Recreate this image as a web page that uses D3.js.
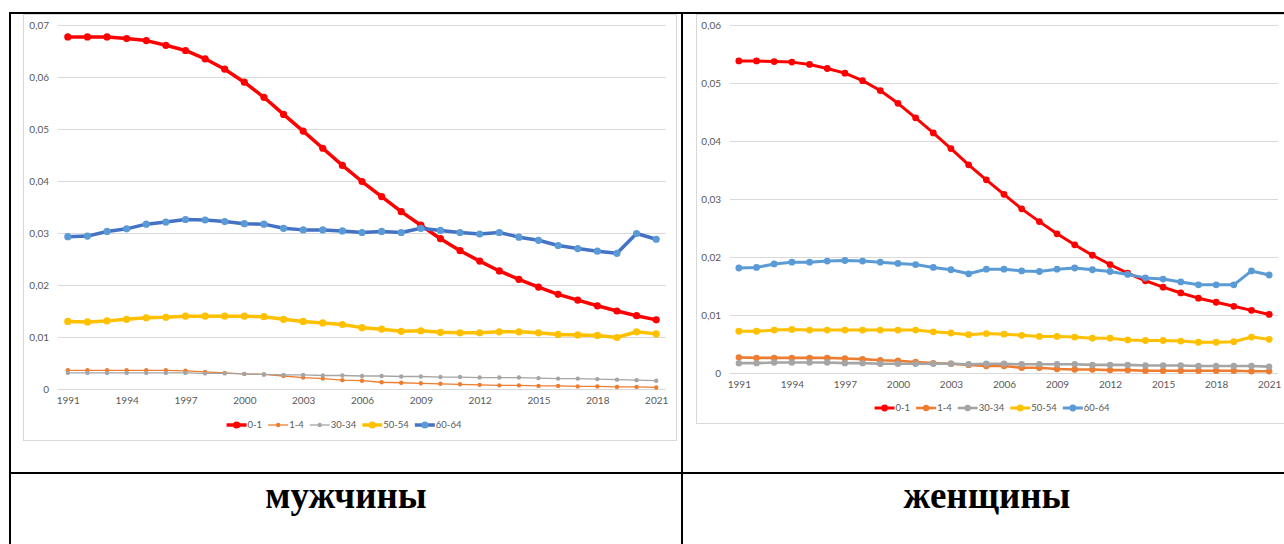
<!DOCTYPE html>
<html>
<head>
<meta charset="utf-8">
<script src="https://cdn.jsdelivr.net/npm/d3@7/dist/d3.min.js"></script>
<style>
html,body{margin:0;padding:0;background:#fff;}
svg{display:block;}
</style>
</head>
<body>
<svg id="c" width="1284" height="544"></svg>
<script>
const years = d3.range(1991, 2022);
const seriesNames = ["0-1", "1-4", "30-34", "50-54", "60-64"];
const tickYears = [1991,1994,1997,2000,2003,2006,2009,2012,2015,2018,2021];

// Men
const men_0_1 = [0.0677,0.0677,0.0677,0.0674,0.0670,0.0661,0.0651,0.0635,0.0615,0.0590,0.0561,0.0528,0.0496,0.0463,0.0430,0.0399,0.0370,0.0341,0.0315,0.0289,0.0266,0.0246,0.0227,0.0211,0.0196,0.0182,0.0171,0.0160,0.0150,0.0141,0.0133];
const men_1_4 = [0.0036,0.0036,0.0036,0.0036,0.0036,0.0036,0.0035,0.0033,0.0031,0.0029,0.0028,0.0025,0.0022,0.0020,0.0017,0.0016,0.0013,0.0012,0.0011,0.0010,0.0009,0.0008,0.0007,0.0007,0.0006,0.0006,0.0005,0.0005,0.0004,0.0004,0.0003];
const men_30_34 = [0.0031,0.0031,0.0031,0.0031,0.0031,0.0031,0.0031,0.0030,0.0030,0.0029,0.0028,0.0027,0.0027,0.0026,0.0026,0.0025,0.0025,0.0024,0.0024,0.0023,0.0023,0.0022,0.0022,0.0022,0.0021,0.0020,0.0020,0.0019,0.0018,0.0017,0.0016];
const men_50_54 = [0.0130,0.0129,0.0131,0.0134,0.0137,0.0138,0.0140,0.0140,0.0140,0.0140,0.0139,0.0134,0.0130,0.0127,0.0124,0.0118,0.0115,0.0111,0.0112,0.0109,0.0108,0.0108,0.0110,0.0110,0.0108,0.0105,0.0104,0.0103,0.0099,0.0110,0.0106];
const men_60_64 = [0.0293,0.0294,0.0303,0.0308,0.0317,0.0321,0.0326,0.0325,0.0322,0.0318,0.0317,0.0309,0.0306,0.0306,0.0304,0.0301,0.0303,0.0301,0.0309,0.0305,0.0301,0.0298,0.0301,0.0292,0.0286,0.0276,0.0270,0.0265,0.0261,0.0299,0.0288];

// Women
const women_0_1 = [0.0538,0.0538,0.0537,0.0536,0.0532,0.0525,0.0517,0.0504,0.0487,0.0465,0.0440,0.0414,0.0387,0.0359,0.0333,0.0308,0.0283,0.0261,0.0240,0.0221,0.0203,0.0187,0.0172,0.0159,0.0148,0.0138,0.0129,0.0122,0.0115,0.0108,0.0101];
const women_1_4 = [0.0027,0.0026,0.0026,0.0026,0.0026,0.0026,0.0025,0.0024,0.0022,0.0021,0.0019,0.0017,0.0016,0.0014,0.0012,0.0012,0.0009,0.0009,0.0007,0.0006,0.0006,0.0005,0.0005,0.0004,0.0004,0.0004,0.0004,0.0004,0.0004,0.0003,0.0003];
const women_30_34 = [0.0017,0.0017,0.0018,0.0018,0.0018,0.0018,0.0017,0.0017,0.0016,0.0016,0.0016,0.0016,0.0016,0.0015,0.0016,0.0016,0.0015,0.0015,0.0015,0.0015,0.0014,0.0014,0.0014,0.0013,0.0013,0.0013,0.0012,0.0012,0.0012,0.0012,0.0011];
const women_50_54 = [0.0072,0.0072,0.0074,0.0075,0.0074,0.0074,0.0074,0.0074,0.0074,0.0074,0.0074,0.0071,0.0069,0.0066,0.0068,0.0067,0.0065,0.0063,0.0063,0.0062,0.0060,0.0060,0.0057,0.0056,0.0056,0.0055,0.0053,0.0053,0.0054,0.0062,0.0058];
const women_60_64 = [0.0181,0.0182,0.0188,0.0191,0.0191,0.0193,0.0194,0.0193,0.0191,0.0189,0.0187,0.0182,0.0178,0.0171,0.0179,0.0179,0.0176,0.0175,0.0179,0.0181,0.0178,0.0175,0.0170,0.0164,0.0162,0.0157,0.0152,0.0152,0.0152,0.0176,0.0169];

const menTicks = [0,0.01,0.02,0.03,0.04,0.05,0.06,0.07];
const womenTicks = [0,0.01,0.02,0.03,0.04,0.05,0.06];
const panelTitles = ["мужчины", "женщины"];

const svg = d3.select("#c");
const fmt = v => v === 0 ? "0" : d3.format(".2f")(v).replace(".", ",");
const labelFont = "Lato, 'Open Sans', sans-serif";

function drawChart(cfg) {
  const g = svg.append("g");
  g.append("rect").attr("x", cfg.frame[0]+0.5).attr("y", cfg.frame[1]+0.5)
    .attr("width", cfg.frame[2]-cfg.frame[0]).attr("height", cfg.frame[3]-cfg.frame[1])
    .attr("fill", "#fff").attr("stroke", "#D9D9D9").attr("stroke-width", 1);
  const x = d3.scalePoint().domain(years).range([cfg.plot[0], cfg.plot[2]]).padding(0.5);
  const y = d3.scaleLinear().domain([0, cfg.ticks[cfg.ticks.length-1]]).range([cfg.plot[3], cfg.plot[1]]);
  g.append("g").selectAll("line").data(cfg.ticks).join("line")
    .attr("x1", cfg.plot[0]).attr("x2", cfg.plot[2])
    .attr("y1", d => Math.round(y(d))+0.5).attr("y2", d => Math.round(y(d))+0.5)
    .attr("stroke", "#D9D9D9").attr("stroke-width", 1);
  const yAxis = d3.axisLeft(y).tickValues(cfg.ticks).tickFormat(fmt).tickSize(0).tickPadding(0);
  const ya = g.append("g").attr("transform", `translate(${cfg.plot[0]-9},0)`).call(yAxis);
  ya.select(".domain").remove();
  ya.selectAll("text").attr("fill", "#595959").attr("font-size", 10).attr("font-family", labelFont);
  const xAxis = d3.axisBottom(x).tickValues(tickYears).tickSize(0).tickPadding(0);
  const xa = g.append("g").attr("transform", `translate(0,${cfg.plot[3]+8})`).call(xAxis);
  xa.select(".domain").remove();
  xa.selectAll("text").attr("fill", "#595959").attr("font-size", 10).attr("font-family", labelFont);
  const line = d3.line().x((d,i) => x(years[i])).y(d => y(d));
  cfg.series.forEach(s => {
    g.append("path").datum(s.values).attr("d", line).attr("fill", "none")
      .attr("stroke", s.line).attr("stroke-width", s.lw).attr("stroke-linejoin", "round").attr("stroke-linecap", "round");
    g.append("g").selectAll("circle").data(s.values).join("circle")
      .attr("cx", (d,i) => x(years[i])).attr("cy", d => y(d)).attr("r", s.r).attr("fill", s.marker);
  });
  const lg = g.append("g");
  let cx = 0;
  cfg.series.forEach(s => {
    const it = lg.append("g").attr("transform", `translate(${cx},0)`);
    it.append("line").attr("x1", 0).attr("x2", 20).attr("y1", 0).attr("y2", 0)
      .attr("stroke", s.line).attr("stroke-width", s.lw);
    it.append("circle").attr("cx", 10).attr("cy", 0).attr("r", s.r).attr("fill", s.marker);
    const t = it.append("text").attr("x", 21).attr("y", 0).attr("dy", "0.35em").text(s.name)
      .attr("fill", "#595959").attr("font-size", 9.5).attr("font-family", labelFont);
    const w = t.node().getComputedTextLength();
    cx += 21 + w + 6;
  });
  const total = cx - 6;
  lg.attr("transform", `translate(${cfg.legendCx - total/2},${cfg.legendY})`);
}

const menColors = [
  {line:"#FF0000", marker:"#FF0000", lw:3.5, r:3.6},
  {line:"#ED7D31", marker:"#ED7D31", lw:1.3, r:2.2},
  {line:"#A5A5A5", marker:"#A5A5A5", lw:1.3, r:2.2},
  {line:"#FFC000", marker:"#FFC000", lw:3.5, r:3.6},
  {line:"#4472C4", marker:"#5B9BD5", lw:3.5, r:3.6}
];
const womenColors = [
  {line:"#FF0000", marker:"#FF0000", lw:3, r:3.4},
  {line:"#ED7D31", marker:"#ED7D31", lw:2.6, r:3.2},
  {line:"#A5A5A5", marker:"#A5A5A5", lw:2.6, r:3.2},
  {line:"#FFC000", marker:"#FFC000", lw:3, r:3.4},
  {line:"#5B9BD5", marker:"#5B9BD5", lw:3, r:3.4}
];
const menVals = [men_0_1, men_1_4, men_30_34, men_50_54, men_60_64];
const womenVals = [women_0_1, women_1_4, women_30_34, women_50_54, women_60_64];

drawChart({
  frame:[23,14,676,440], plot:[58,25,666,389], ticks:menTicks,
  series: seriesNames.map((n,i) => Object.assign({name:n, values:menVals[i]}, menColors[i])),
  legendCx:344, legendY:425
});
drawChart({
  frame:[696,14,1290,423], plot:[730,25,1278,373], ticks:womenTicks,
  series: seriesNames.map((n,i) => Object.assign({name:n, values:womenVals[i]}, womenColors[i])),
  legendCx:992, legendY:408
});

const tl = svg.append("g").attr("stroke", "#000").attr("stroke-width", 2);
tl.append("line").attr("x1", 9).attr("x2", 1284).attr("y1", 13).attr("y2", 13);
tl.append("line").attr("x1", 10).attr("x2", 10).attr("y1", 12).attr("y2", 544);
tl.append("line").attr("x1", 682).attr("x2", 682).attr("y1", 12).attr("y2", 544);
tl.append("line").attr("x1", 9).attr("x2", 1284).attr("y1", 473).attr("y2", 473);

svg.append("g").selectAll("text").data(panelTitles).join("text")
  .attr("x", (d,i) => i === 0 ? 346 : 987).attr("y", 508)
  .attr("text-anchor", "middle").attr("font-family", "'Liberation Serif', 'Times New Roman', serif")
  .attr("font-weight", "bold").attr("font-size", 37).attr("fill", "#000").text(d => d);
</script>
</body>
</html>
